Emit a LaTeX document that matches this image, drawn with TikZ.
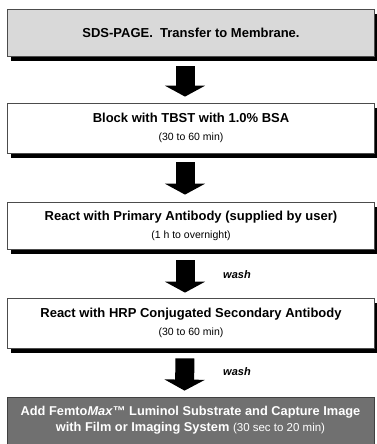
\documentclass[tikz,border=0pt]{standalone}
\usepackage{fontspec}
\setmainfont{Liberation Sans}
\usetikzlibrary{arrows.meta,positioning,shadows}
\newcommand{\duration}[1]{{\fontsize{10.5}{12}\selectfont\mdseries #1}}
\tikzset{
	box/.style={draw=black!70,line width=0.8pt,rectangle,align=center,fill=white,
		minimum width=367pt,inner sep=2pt,font=\fontsize{13}{18}\selectfont\bfseries,
		drop shadow={shadow xshift=3pt,shadow yshift=-5pt,fill=black,opacity=1}},
	start/.style={box,fill=black!15},
	finish/.style={draw=black!75,line width=0.8pt,rectangle,align=center,fill=black!56,text=white,
		minimum width=367pt,inner sep=2pt,font=\fontsize{12.8}{16}\selectfont\bfseries},
	blockarrow/.style={line width=19pt,-{Triangle[width=40pt,length=11pt]}},
	washlabel/.style={font=\fontsize{11}{13}\selectfont\bfseries\itshape}
}
\begin{document}
\begin{tikzpicture}[x=1pt,y=1pt]
	\useasboundingbox (0,0) rectangle (377,-444);
	\node[start,minimum height=47pt] (sds) at (191,-32.5) {SDS-PAGE.\ \ Transfer to Membrane.};
	\node[box,minimum height=50pt] (block) at (191,-128) {Block with TBST with 1.0\% BSA\\ \duration{(30 to 60 min)}};
	\node[box,minimum height=47pt] (primary) at (191,-225.5) {React with Primary Antibody (supplied by user)\\ \duration{(1 h to overnight)}};
	\node[box,minimum height=50pt] (secondary) at (191,-323) {React with HRP Conjugated Secondary Antibody\\ \duration{(30 to 60 min)}};
	\node[finish,minimum height=47pt] (detect) at (190.5,-420.5) {Add Femto\textit{Max}™ Luminol Substrate and Capture Image\\ with Film or Imaging System {\fontsize{11.5}{14}\selectfont\mdseries (30 sec to 20 min)}};
	% block arrows between the steps
	\draw[blockarrow,shorten <=10pt,shorten >=6pt] ([xshift=-6pt]sds.south) -- ([xshift=-6pt]block.north);
	\draw[blockarrow,shorten <=9pt,shorten >=7pt] ([xshift=-6pt]block.south) -- ([xshift=-6pt]primary.north);
	\draw[blockarrow,shorten <=11pt,shorten >=5pt] ([xshift=-6pt]primary.south) -- ([xshift=-6pt]secondary.north);
	\draw[blockarrow,shorten <=10pt,shorten >=6pt] ([xshift=-6pt]secondary.south) -- ([xshift=-6pt]detect.north);
	\node[washlabel] (wash1) at (237,-275) {wash};
	\node[washlabel] (wash2) at (237,-372) {wash};
\end{tikzpicture}
\end{document}
